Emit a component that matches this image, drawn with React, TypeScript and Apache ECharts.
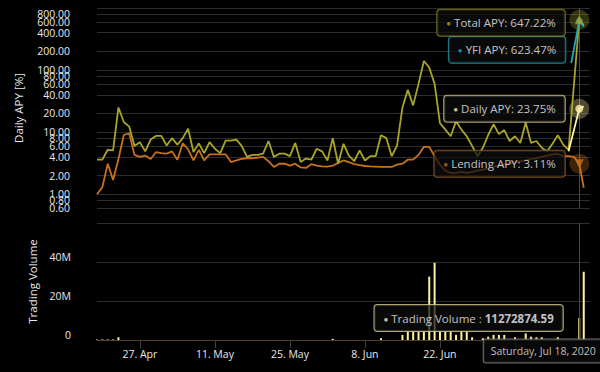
import React, { useEffect, useRef } from "react";
import * as echarts from "echarts";

const START = Date.UTC(2020, 3, 19);
const DAY = 86400000;
const HOVER = Date.UTC(2020, 6, 18);
const LAST = Date.UTC(2020, 6, 18, 20);
const X_MAX = Date.UTC(2020, 6, 20);

// Daily values from Apr 19 onward
const totalApy = [
  3.6, 3.6, 5.2, 5.1, 25, 14.6, 12.3, 6.0, 6.9, 4.9,
  7.6, 8.7, 8.7, 6.1, 8.0, 6.3, 8.0, 11.4, 4.8, 6.6,
  4.6, 6.9, 5.4, 4.6, 7.3, 7.3, 7.6, 6.0, 4.0, 4.3,
  4.3, 4.5, 7.2, 4.0, 4.5, 4.5, 4.1, 6.7, 3.3, 3.75,
  3.6, 5.4, 4.9, 3.5, 8.0, 3.1, 6.5, 4.2, 3.4, 5.1,
  3.5, 4.1, 4.1, 8.9, 8.0, 4.1, 6.1, 25, 48, 27,
  60, 140, 110, 60, 14, 11, 8.6, 15, 11, 8.6,
  6, 4.1, 5.6, 9, 13.4, 9.3, 10.8, 7.2, 8.6, 6.7,
  14.3, 6.7, 7.2, 5.6, 4.9, 6.5, 8.9, 6.3, 5.2,
];
const lendingApy = [
  1.0, 1.3, 3.1, 1.7, 3.7, 9.0, 9.6, 4.3, 4.0, 4.2,
  3.7, 4.75, 4.6, 4.5, 4.9, 3.6, 6.6, 5.3, 3.5, 5.2,
  3.5, 4.4, 4.4, 4.4, 4.4, 3.3, 3.5, 3.7, 3.8, 3.8,
  3.9, 4.0, 3.4, 2.75, 3.1, 3.1, 2.9, 3.1, 2.7, 2.65,
  3.05, 2.9, 2.8, 2.78, 2.88, 3.2, 3.5, 3.3, 3.05, 2.95,
  2.85, 2.8, 2.78, 2.75, 2.75, 2.75, 3.0, 3.1, 3.6, 3.6,
  4.3, 5.8, 5.8, 4.1, 3.0, 2.4, 2.2, 2.2, 2.3, 2.2,
  2.3, 2.4, 2.5, 2.6, 2.8, 2.9, 3.0, 3.1, 3.3, 3.4,
  3.5, 3.7, 3.8, 4.0, 4.2, 4.4, 4.45, 4.1, 4.1, 4.0,
];
const volumeM = [
  0.3, 0.3, 0.3, 0.3, 1.4, 0, 0, 0, 0, 0,
  0, 0, 0, 0, 0, 0, 0, 0, 0, 0,
  0, 0, 0, 0, 0, 0, 0, 0, 0, 0,
  0, 0, 0, 0, 0, 0, 0, 0, 0, 0,
  0, 0, 0, 0, 0.6, 0, 0, 0, 0, 0,
  0, 0, 0, 0.9, 0, 0, 0, 2.6, 4.3, 4.3,
  4.3, 4.3, 32.5, 39.6, 4.3, 4.3, 4.3, 2.6, 4.3, 4.3,
  1.4, 0, 0.9, 1.7, 2.6, 2.6, 2.6, 0, 1.4, 0,
  3.4, 1.7, 1.4, 1.4, 0, 0, 1.4, 0, 0, 0,
];
// Last observations (Jul 18 is the hovered day)
const totalTail: [number, number][] = [[HOVER, 647.22], [LAST, 520]];
const yfiApy: [number, number][] = [[Date.UTC(2020, 6, 16, 12), 130], [HOVER, 623.47], [LAST, 500]];
const dailyApy: [number, number][] = [[Date.UTC(2020, 6, 16), 4.9], [HOVER, 23.75], [LAST, 26]];
const lendingTail: [number, number][] = [[HOVER, 3.11], [LAST, 1.27]];
const volumeTail: [number, number][] = [[HOVER, 11272874.59], [LAST, 35000000]];

const apyTicks = [0.6, 0.8, 1, 2, 4, 6, 8, 10, 20, 40, 60, 80, 100, 200, 400, 600, 800];
const apyTop = 1000;
const dateTicks = ["2020-04-27", "2020-05-11", "2020-05-25", "2020-06-08", "2020-06-22", "2020-07-06"];
// Jul 6 label sits under the date tooltip in the reference
const dateLabels = ["2020-04-27", "2020-05-11", "2020-05-25", "2020-06-08", "2020-06-22"];
const MONTHS = ["Jan", "Feb", "Mar", "Apr", "May", "Jun", "Jul", "Aug", "Sep", "Oct", "Nov", "Dec"];
const WEEKDAYS = ["Sunday", "Monday", "Tuesday", "Wednesday", "Thursday", "Friday", "Saturday"];

const C_TOTAL = "#a8a52b";
const C_YFI = "#27a3b4";
const C_DAILY = "#fff3a6";
const C_LEND = "#c5711f";
const C_VOL = "#fff0a0";
const FONT = "Open Sans";
const TXT = "#e8e8e8";
const GRID = "#2c2c2c";

const toPairs = (vals: number[]) => vals.map((v, i) => [START + i * DAY, v]);

function tip(text: string, border: string, dot: string, distance: number, offset: number[] = [0, 0]) {
  return {
    show: true,
    position: "left",
    distance,
    offset,
    formatter: `{d|●} ${text}`,
    color: "#f2f2f2",
    fontFamily: FONT,
    fontSize: 11.5,
    backgroundColor: "rgba(12,12,12,0.9)",
    borderColor: border,
    borderWidth: 1,
    borderRadius: 3,
    padding: [7, 9, 7, 9],
    rich: {
      d: { color: dot, fontSize: 8, fontFamily: FONT },
      b: { color: "#f2f2f2", fontSize: 11.5, fontFamily: FONT, fontWeight: "bold" },
    },
  };
}

export default function App() {
  const ref = useRef<HTMLDivElement>(null);
  useEffect(() => {
    const chart = echarts.init(ref.current!, null, { renderer: "svg" });
    const hoverDate = new Date(HOVER);
    const dateText = `${WEEKDAYS[hoverDate.getUTCDay()]}, ${MONTHS[hoverDate.getUTCMonth()]} ${hoverDate.getUTCDate()}, ${hoverDate.getUTCFullYear()}`;
    const tickTimes = dateTicks.map((d) => Date.parse(d + "T00:00:00Z"));
    const labelTimes = dateLabels.map((d) => Date.parse(d + "T00:00:00Z"));

    const hoverTotal = totalTail[0][1];
    const hoverYfi = yfiApy[1][1];
    const hoverDaily = dailyApy[1][1];
    const hoverLend = lendingTail[0][1];
    const hoverVol = volumeTail[0][1];

    const option: any = {
      animation: false,
      backgroundColor: "#000",
      grid: [
        { left: 97, top: 8, width: 493, height: 200 },
        { left: 97, top: 223, width: 493, height: 117 },
      ],
      xAxis: [
        { type: "value", gridIndex: 0, min: START, max: X_MAX, show: false, splitLine: { show: false } },
        {
          type: "value",
          gridIndex: 1,
          min: START,
          max: X_MAX,
          axisLine: { show: true, lineStyle: { color: "#4e4032", width: 1 } },
          axisTick: { show: true, customValues: tickTimes, length: 8, lineStyle: { color: "#3e3e3e" } },
          splitLine: { show: false },
          axisLabel: {
            customValues: labelTimes,
            color: TXT,
            fontFamily: FONT,
            fontSize: 10.5,
            margin: 8,
            formatter: (v: number) => {
              const d = new Date(v);
              return `${d.getUTCDate()}. ${MONTHS[d.getUTCMonth()]}`;
            },
          },
        },
      ],
      yAxis: [
        {
          type: "log",
          logBase: 10,
          gridIndex: 0,
          min: 0.6,
          max: apyTop,
          axisLine: { show: false },
          axisTick: { show: false },
          axisLabel: { show: false },
          splitLine: { show: false },
          name: "Daily APY [%]",
          nameLocation: "middle",
          nameGap: 73,
          nameTextStyle: { color: TXT, fontFamily: FONT, fontSize: 11.5 },
        },
        {
          type: "value",
          gridIndex: 1,
          min: 0,
          max: 60000000,
          interval: 20000000,
          axisLine: { show: false },
          axisTick: { show: false },
          splitLine: { show: true, lineStyle: { color: GRID } },
          axisLabel: {
            showMaxLabel: false,
            color: TXT,
            fontFamily: FONT,
            fontSize: 10.5,
            margin: 26,
            verticalAlign: "bottom",
            formatter: (v: number) => (v === 0 ? "0" : `${v / 1000000}M`),
          },
          name: "Trading Volume",
          nameLocation: "middle",
          nameGap: 55,
          nameTextStyle: { color: TXT, fontFamily: FONT, fontSize: 11.5 },
        },
      ],
      series: [
        {
          name: "Lending APY",
          type: "line",
          xAxisIndex: 0,
          yAxisIndex: 0,
          showSymbol: false,
          lineStyle: { color: C_LEND, width: 1.8 },
          itemStyle: { color: C_LEND },
          data: [...toPairs(lendingApy), ...lendingTail],
          markLine: {
            silent: true,
            z: 1,
            symbol: ["none", "none"],
            animation: false,
            lineStyle: { color: GRID, type: "solid", width: 1 },
            label: {
              position: "start",
              distance: 27,
              color: TXT,
              fontFamily: FONT,
              fontSize: 10.5,
              padding: [0, 0, 10, 0],
              formatter: (p: any) => Number(p.value).toFixed(2),
            },
            data: [
              ...apyTicks.map((v) => ({ yAxis: v })),
              { yAxis: apyTop, label: { show: false } },
              { xAxis: HOVER, lineStyle: { color: "#4a4a4a" }, label: { show: false } },
            ],
          },
        },
        {
          name: "Total APY",
          type: "line",
          xAxisIndex: 0,
          yAxisIndex: 0,
          showSymbol: false,
          lineStyle: { color: C_TOTAL, width: 1.8 },
          itemStyle: { color: C_TOTAL },
          data: [...toPairs(totalApy), ...totalTail],
        },
        {
          name: "YFI APY",
          type: "line",
          xAxisIndex: 0,
          yAxisIndex: 0,
          showSymbol: false,
          lineStyle: { color: C_YFI, width: 1.8 },
          itemStyle: { color: C_YFI },
          data: yfiApy,
        },
        {
          name: "Daily APY",
          type: "line",
          xAxisIndex: 0,
          yAxisIndex: 0,
          showSymbol: false,
          lineStyle: { color: C_DAILY, width: 1.8 },
          itemStyle: { color: C_DAILY },
          data: dailyApy,
        },
        {
          name: "halo",
          type: "scatter",
          xAxisIndex: 0,
          yAxisIndex: 0,
          silent: true,
          symbol: "circle",
          symbolSize: 20,
          data: [
            { value: [HOVER, hoverTotal], itemStyle: { color: C_TOTAL, opacity: 0.3 } },
            { value: [HOVER, hoverDaily], itemStyle: { color: C_DAILY, opacity: 0.3 } },
            { value: [HOVER, hoverLend], itemStyle: { color: C_LEND, opacity: 0.3 } },
          ],
        },
        {
          name: "markers",
          type: "scatter",
          xAxisIndex: 0,
          yAxisIndex: 0,
          silent: true,
          z: 5,
          data: [
            {
              value: [HOVER, hoverYfi],
              symbol: "diamond",
              symbolSize: 8,
              itemStyle: { color: C_YFI },
              label: tip(`YFI APY: ${hoverYfi.toFixed(2)}%`, C_YFI, C_YFI, 10, [0, 29]),
            },
            {
              value: [HOVER, hoverTotal],
              symbol: "triangle",
              symbolSize: 9,
              itemStyle: { color: C_TOTAL },
              label: tip(`Total APY: ${hoverTotal.toFixed(2)}%`, "#8f8a2a", C_TOTAL, 10, [0, 3]),
            },
            {
              value: [HOVER, hoverDaily],
              symbol: "circle",
              symbolSize: 8,
              itemStyle: { color: C_DAILY },
              label: tip(`Daily APY: ${hoverDaily.toFixed(2)}%`, "#d9d19b", C_DAILY, 10.5),
            },
            {
              value: [HOVER, hoverLend],
              symbol: "triangle",
              symbolRotate: 180,
              symbolSize: 9,
              itemStyle: { color: C_LEND },
              label: tip(`Lending APY: ${hoverLend.toFixed(2)}%`, "#9b5f27", C_LEND, 10),
            },
          ],
        },
        {
          name: "Trading Volume",
          type: "bar",
          xAxisIndex: 1,
          yAxisIndex: 1,
          barWidth: 2,
          itemStyle: { color: C_VOL },
          data: [...volumeM.map((v, i) => [START + i * DAY, v * 1000000]), ...volumeTail],
          markLine: {
            silent: true,
            symbol: ["none", "none"],
            animation: false,
            label: { show: false },
            lineStyle: { color: "#4a4a4a", type: "solid", width: 1 },
            data: [{ xAxis: HOVER }],
          },
        },
        {
          name: "volTip",
          type: "scatter",
          xAxisIndex: 1,
          yAxisIndex: 1,
          silent: true,
          z: 5,
          symbolSize: 1,
          itemStyle: { color: "rgba(0,0,0,0)" },
          data: [
            {
              value: [HOVER, hoverVol],
              label: {
                ...tip(`Trading Volume : {b|${hoverVol.toFixed(2)}}`, "#d9d19b", C_VOL, 16),
              },
            },
            {
              value: [HOVER, 0],
              label: {
                show: true,
                position: "bottom",
                distance: 0,
                offset: [-36, -1],
                formatter: dateText,
                color: "#e8e8e8",
                fontFamily: FONT,
                fontSize: 10.5,
                backgroundColor: "rgba(10,10,10,0.97)",
                borderColor: "#8a8a8a",
                borderWidth: 1,
                borderRadius: 2,
                padding: [6, 7, 6, 7],
              },
            },
          ],
        },
      ],
    };
    chart.setOption(option);
    return () => chart.dispose();
  }, []);
  return (
    <div
      ref={ref}
      style={{ position: "fixed", left: 0, top: 0, width: 600, height: 372, background: "#000" }}
    />
  );
}
